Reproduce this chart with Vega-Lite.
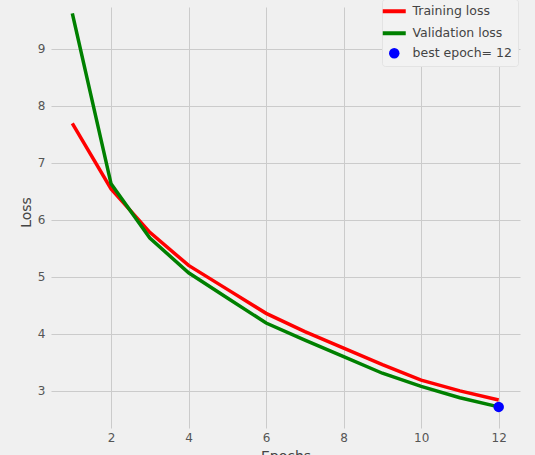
{
  "$schema": "https://vega.github.io/schema/vega-lite/v6.json",
  "autosize": "none",
  "width": 469,
  "height": 421,
  "padding": {"left": 51, "top": 7, "right": 15, "bottom": 27},
  "background": "#f0f0f0",
  "config": {
    "view": {"stroke": null},
    "font": "DejaVu Sans",
    "axis": {
      "grid": true,
      "gridColor": "#cbcbcb",
      "gridWidth": 1,
      "domain": false,
      "ticks": false,
      "labelColor": "#555555",
      "labelFontSize": 12,
      "labelFont": "DejaVu Sans",
      "titleColor": "#444444",
      "titleFont": "DejaVu Sans",
      "titleFontSize": 14,
      "titleFontWeight": "normal"
    }
  },
  "datasets": {
    "losses": [
      {"epoch": 1, "loss": 7.69, "series": "Training loss"},
      {"epoch": 2, "loss": 6.54, "series": "Training loss"},
      {"epoch": 3, "loss": 5.78, "series": "Training loss"},
      {"epoch": 4, "loss": 5.2, "series": "Training loss"},
      {"epoch": 5, "loss": 4.78, "series": "Training loss"},
      {"epoch": 6, "loss": 4.36, "series": "Training loss"},
      {"epoch": 7, "loss": 4.04, "series": "Training loss"},
      {"epoch": 8, "loss": 3.75, "series": "Training loss"},
      {"epoch": 9, "loss": 3.46, "series": "Training loss"},
      {"epoch": 10, "loss": 3.19, "series": "Training loss"},
      {"epoch": 11, "loss": 3.0, "series": "Training loss"},
      {"epoch": 12, "loss": 2.84, "series": "Training loss"},
      {"epoch": 1, "loss": 9.62, "series": "Validation loss"},
      {"epoch": 2, "loss": 6.63, "series": "Validation loss"},
      {"epoch": 3, "loss": 5.68, "series": "Validation loss"},
      {"epoch": 4, "loss": 5.07, "series": "Validation loss"},
      {"epoch": 5, "loss": 4.63, "series": "Validation loss"},
      {"epoch": 6, "loss": 4.19, "series": "Validation loss"},
      {"epoch": 7, "loss": 3.89, "series": "Validation loss"},
      {"epoch": 8, "loss": 3.6, "series": "Validation loss"},
      {"epoch": 9, "loss": 3.31, "series": "Validation loss"},
      {"epoch": 10, "loss": 3.08, "series": "Validation loss"},
      {"epoch": 11, "loss": 2.88, "series": "Validation loss"},
      {"epoch": 12, "loss": 2.72, "series": "Validation loss"}
    ],
    "best": [
      {"epoch": 12, "loss": 2.72, "series": "best epoch= 12"}
    ]
  },
  "encoding": {
    "x": {
      "field": "epoch",
      "type": "quantitative",
      "scale": {"domain": [0.45, 12.55], "nice": false, "zero": false},
      "axis": {"values": [2, 4, 6, 8, 10, 12], "title": "Epochs", "labelPadding": 4, "titlePadding": 6, "labelFlush": false}
    },
    "y": {
      "field": "loss",
      "type": "quantitative",
      "scale": {"domain": [2.35, 9.73], "nice": false, "zero": false},
      "axis": {"values": [3, 4, 5, 6, 7, 8, 9], "title": "Loss", "labelPadding": 6, "titlePadding": 4, "titleY": 205, "labelFlush": false}
    },
    "color": {
      "field": "series",
      "type": "nominal",
      "scale": {
        "domain": ["Training loss", "Validation loss", "best epoch= 12"],
        "range": ["#ff0000", "#008000", "#0000ff"]
      },
      "legend": {
        "title": null,
        "orient": "none",
        "legendX": 331,
        "legendY": -8,
        "padding": 6,
        "fillColor": "#f2f2f2",
        "strokeColor": "#e3e3e3",
        "cornerRadius": 3,
        "symbolType": "stroke",
        "symbolSize": 529,
        "symbolStrokeWidth": 4,
        "labelFontSize": 12.5,
        "labelColor": "#444444",
        "labelFont": "DejaVu Sans",
        "labelOffset": 12,
        "rowPadding": 5,
        "encode": {
          "symbols": {
            "update": {
              "shape": {"signal": "datum.value === 'best epoch= 12' ? 'circle' : 'stroke'"},
              "size": {"signal": "datum.value === 'best epoch= 12' ? 110 : 529"},
              "fill": {"signal": "datum.value === 'best epoch= 12' ? '#0000ff' : 'transparent'"},
              "fillOpacity": {"value": 1},
              "strokeWidth": {"signal": "datum.value === 'best epoch= 12' ? 0 : 4"}
            }
          }
        }
      }
    }
  },
  "layer": [
    {
      "data": {"name": "losses"},
      "mark": {"type": "line", "strokeWidth": 3.5}
    },
    {
      "data": {"name": "best"},
      "mark": {"type": "point", "filled": true, "size": 110, "opacity": 1}
    }
  ]
}
